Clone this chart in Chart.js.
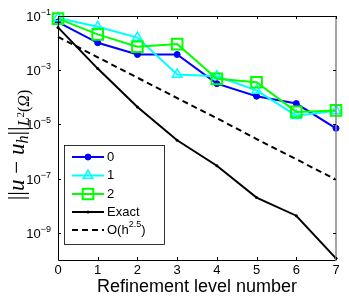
<!DOCTYPE html>
<html>
<head>
<meta charset="utf-8">
<script src="https://cdn.jsdelivr.net/npm/chart.js@4"></script>
<style>
  html, body { margin: 0; padding: 0; background: #fff; }
  canvas { display: block; }
</style>
</head>
<body>
<canvas id="err-chart" width="349" height="298"></canvas>
<script>
// refinement levels (x axis)
const levels = [0, 1, 2, 3, 4, 5, 6, 7];

// L2 errors
const err0 = [0.06, 0.0103, 0.0038, 0.0038, 3.2e-4, 1.1e-4, 5.9e-5, 7.2e-6];
const err1 = [0.085, 0.04, 0.016, 7.0e-4, 6.0e-4, 1.8e-4, 2.1e-5, 3.2e-5];
const err2 = [0.08, 0.021, 0.0073, 0.0092, 4.8e-4, 3.6e-4, 2.9e-5, 3.3e-5];
const errExact = [0.038, 1.15e-3, 4.4e-5, 2.6e-6, 3.0e-7, 2.0e-8, 4.3e-9, 1.15e-10];
const refRate = [0.017, 3.0e-3, 5.3e-4, 9.4e-5, 1.7e-5, 2.9e-6, 5.2e-7, 9.2e-8];

// ticks
const xTicks = [0, 1, 2, 3, 4, 5, 6, 7];
const yTickValues = [1e-1, 1e-3, 1e-5, 1e-7, 1e-9];
const yTickExps = ['-1', '-3', '-5', '-7', '-9'];

const legendNames = ['0', '1', '2', 'Exact', 'O(h'];

const SANS = '"Liberation Sans", Arial, sans-serif';
const SERIF = '"Liberation Serif", "Times New Roman", serif';

const toPoints = arr => levels.map((x, i) => ({ x: x, y: arr[i] }));

const datasets = [
    {
        label: legendNames[0], data: toPoints(err0),
        borderColor: '#0000ff', backgroundColor: '#0000ff', borderWidth: 2,
        pointStyle: 'circle', pointRadius: 3, pointBorderWidth: 1,
        pointBackgroundColor: '#0000ff', order: 5
    },
    {
        label: legendNames[1], data: toPoints(err1),
        borderColor: '#00ffff', backgroundColor: '#00ffff', borderWidth: 2,
        pointStyle: 'triangle', pointRadius: 5.5, pointBorderWidth: 1.5,
        pointBackgroundColor: 'rgba(0,0,0,0)', order: 4
    },
    {
        label: legendNames[2], data: toPoints(err2),
        borderColor: '#00ff00', backgroundColor: '#00ff00', borderWidth: 2,
        pointStyle: 'rect', pointRadius: 7.5, pointBorderWidth: 2,
        pointBackgroundColor: 'rgba(0,0,0,0)', order: 3
    },
    {
        label: legendNames[3], data: toPoints(errExact),
        borderColor: '#000', backgroundColor: '#000', borderWidth: 2,
        pointStyle: 'circle', pointRadius: 1.5, pointBorderWidth: 0,
        pointBackgroundColor: '#000', order: 2
    },
    {
        label: legendNames[4], data: toPoints(refRate),
        borderColor: '#000', backgroundColor: '#000', borderWidth: 2,
        borderDash: [6, 4], pointRadius: 0, order: 1
    }
];
datasets.forEach(d => { d.tension = 0; d.fill = false; d.clip = false; });

// draws a string made of parts with their own font and baseline shift
function drawParts(ctx, parts, x, y) {
    let cx = x;
    parts.forEach(p => {
        ctx.font = p.f;
        ctx.fillText(p.t, cx, y + (p.dy || 0));
        cx += ctx.measureText(p.t).width;
    });
    return cx - x;
}
function partsWidth(ctx, parts) {
    let w = 0;
    parts.forEach(p => { ctx.font = p.f; w += ctx.measureText(p.t).width; });
    return w;
}

const decorations = {
    id: 'decorations',
    afterDraw(chart) {
        const ctx = chart.ctx;
        const a = chart.chartArea;
        const xs = chart.scales.x, ys = chart.scales.y;
        ctx.save();

        // axes box
        ctx.strokeStyle = '#000';
        ctx.lineWidth = 1;
        ctx.beginPath();
        ctx.moveTo(a.right, a.top + 0.5);
        ctx.lineTo(a.left + 0.5, a.top + 0.5);
        ctx.lineTo(a.left + 0.5, a.bottom + 0.5);
        ctx.lineTo(a.right, a.bottom + 0.5);
        ctx.stroke();
        ctx.strokeStyle = '#888';
        ctx.lineWidth = 1.5;
        ctx.beginPath();
        ctx.moveTo(a.right, a.top);
        ctx.lineTo(a.right, a.bottom + 1);
        ctx.stroke();

        // inward ticks
        ctx.strokeStyle = '#000';
        ctx.lineWidth = 1;
        const tl = 3;
        ctx.beginPath();
        xTicks.forEach(v => {
            const px = Math.round(xs.getPixelForValue(v)) + 0.5;
            ctx.moveTo(px, a.bottom); ctx.lineTo(px, a.bottom - tl);
            ctx.moveTo(px, a.top); ctx.lineTo(px, a.top + tl);
        });
        yTickValues.forEach(v => {
            const py = Math.round(ys.getPixelForValue(v)) + 0.5;
            ctx.moveTo(a.left, py); ctx.lineTo(a.left + tl, py);
            ctx.moveTo(a.right, py); ctx.lineTo(a.right - tl, py);
        });
        ctx.stroke();

        // y tick labels 10^n
        ctx.fillStyle = '#000';
        ctx.textBaseline = 'alphabetic';
        ctx.textAlign = 'left';
        yTickValues.forEach((v, i) => {
            const py = ys.getPixelForValue(v);
            const parts = [
                { t: '10', f: '13px ' + SANS, dy: 5 },
                { t: '\u2212' + yTickExps[i].slice(1), f: '9px ' + SANS, dy: -1 }
            ];
            const w = partsWidth(ctx, parts);
            drawParts(ctx, parts, a.left - 7 - w, py);
        });

        // x title
        ctx.font = '18px ' + SANS;
        ctx.textAlign = 'center';
        ctx.textBaseline = 'middle';
        ctx.fillText('Refinement level number', (a.left + a.right) / 2, 287);

        // y title ||u - u_h||_{L^2(Omega)}
        ctx.save();
        ctx.translate(24, 145);
        ctx.rotate(-Math.PI / 2);
        ctx.textAlign = 'left';
        ctx.textBaseline = 'alphabetic';
        const big = 23, sub = 16;
        const yParts = [
            { t: '||', f: big + 'px ' + SERIF },
            { t: 'u', f: 'italic ' + big + 'px ' + SERIF },
            { t: ' \u2212 ', f: big + 'px ' + SERIF },
            { t: 'u', f: 'italic ' + big + 'px ' + SERIF },
            { t: 'h', f: 'italic ' + sub + 'px ' + SERIF, dy: 4 },
            { t: '||', f: big + 'px ' + SERIF },
            { t: 'L', f: 'italic ' + sub + 'px ' + SERIF, dy: 5 },
            { t: '2', f: '11px ' + SERIF, dy: 0 },
            { t: '(', f: sub + 'px ' + SERIF, dy: 5 },
            { t: '\u03a9', f: 'italic ' + sub + 'px ' + SERIF, dy: 5 },
            { t: ')', f: sub + 'px ' + SERIF, dy: 5 }
        ];
        drawParts(ctx, yParts, -partsWidth(ctx, yParts) / 2, 0);
        ctx.restore();

        // legend
        const lx = 64.5, ly = 145.5, lw = 100, lh = 99;
        ctx.fillStyle = '#fff';
        ctx.fillRect(lx, ly, lw, lh);
        ctx.strokeStyle = '#000';
        ctx.lineWidth = 0.8;
        ctx.strokeRect(lx, ly, lw, lh);
        ctx.textAlign = 'left';
        ctx.textBaseline = 'middle';
        const rows = [157, 175.5, 194, 212, 230];
        chart.data.datasets.forEach((d, i) => {
            const y = rows[i];
            ctx.strokeStyle = d.borderColor;
            ctx.lineWidth = d.borderWidth;
            ctx.setLineDash(d.borderDash || []);
            ctx.beginPath();
            ctx.moveTo(72, y);
            ctx.lineTo(104, y);
            ctx.stroke();
            ctx.setLineDash([]);
            if (d.pointRadius > 0) {
                ctx.fillStyle = d.pointBackgroundColor;
                ctx.strokeStyle = d.borderColor;
                ctx.lineWidth = d.pointBorderWidth || 0.01;
                Chart.helpers.drawPoint(ctx, {
                    pointStyle: d.pointStyle, radius: d.pointRadius,
                    borderWidth: d.pointBorderWidth, rotation: 0
                }, 88, y);
            }
            ctx.fillStyle = '#000';
            const parts = [{ t: d.label, f: '13px ' + SANS, dy: 0 }];
            if (i === 4) {
                parts.push({ t: '2.5', f: '9px ' + SANS, dy: -5 });
                parts.push({ t: ')', f: '13px ' + SANS, dy: 0 });
            }
            drawParts(ctx, parts, 107, y);
        });

        ctx.restore();
    }
};

new Chart(document.getElementById('err-chart').getContext('2d'), {
    type: 'line',
    data: { datasets: datasets },
    options: {
        responsive: false,
        animation: false,
        devicePixelRatio: 1,
        layout: { padding: { top: 16, right: 13, left: 0, bottom: 0 } },
        plugins: { legend: { display: false }, tooltip: { enabled: false } },
        scales: {
            x: {
                type: 'linear', min: 0, max: 7,
                afterBuildTicks: s => { s.ticks = xTicks.map(v => ({ value: v })); },
                afterFit: s => { s.height = 38; },
                grid: { display: false, drawTicks: false },
                border: { display: false },
                ticks: {
                    color: '#000', padding: 3, maxRotation: 0, autoSkip: false,
                    font: { family: SANS, size: 13 }
                }
            },
            y: {
                type: 'logarithmic', min: 1e-10, max: 1e-1,
                afterBuildTicks: s => { s.ticks = yTickValues.map(v => ({ value: v })); },
                afterFit: s => { s.width = 58; },
                grid: { display: false, drawTicks: false },
                border: { display: false },
                ticks: { display: false }
            }
        }
    },
    plugins: [decorations]
});
</script>
</body>
</html>
